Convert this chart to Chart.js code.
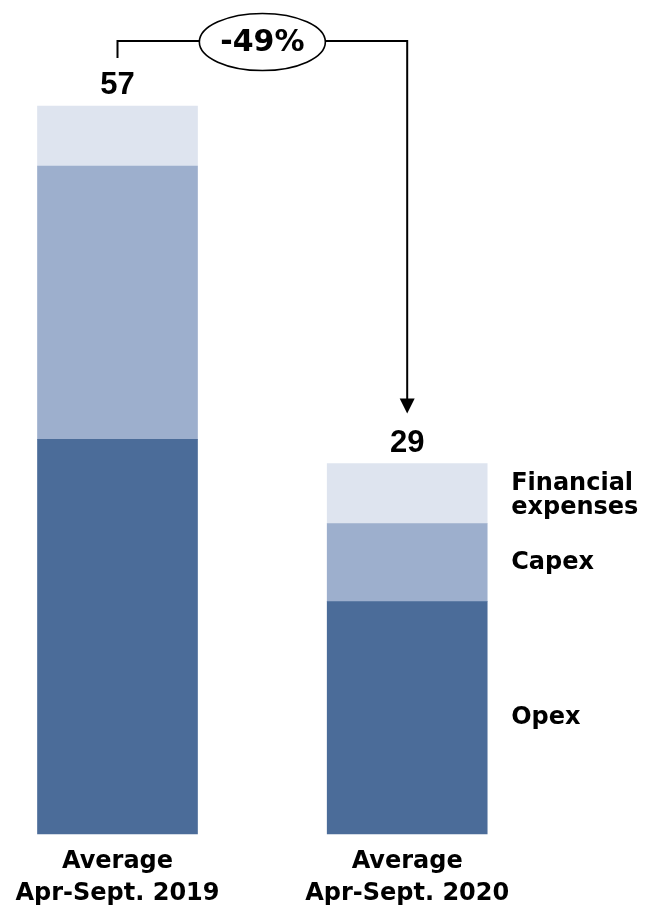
<!DOCTYPE html>
<html>
<head>
<meta charset="utf-8">
<script src="https://cdn.jsdelivr.net/npm/chart.js"></script>
<style>
  html, body { margin: 0; padding: 0; background: #fff; }
  #wrap { width: 649px; height: 908px; position: relative; }
</style>
</head>
<body>
<div id="wrap"><canvas id="costChart"></canvas></div>
<script>
// monthly cost split, average over April-September
const periods = [['Average', 'Apr-Sept. 2019'], ['Average', 'Apr-Sept. 2020']];
const opex = [30.9, 18.2];
const capex = [21.4, 6.1];
const financial = [4.7, 4.7];
const seriesNames = [['Opex'], ['Capex'], ['Financial', 'expenses']];
const seriesColors = ['#4B6C99', '#9DAFCD', '#DEE4EF'];

const textFont = '"DejaVu Sans", sans-serif';
const numFont = '"Liberation Sans", Arial, sans-serif';

function totals() {
  return periods.map((_, i) => opex[i] + capex[i] + financial[i]);
}

// totals above the stacks, series names beside the last stack, change bracket on top
const annotations = {
  id: 'annotations',
  afterDatasetsDraw(chart) {
    const ctx = chart.ctx;
    const sums = totals();
    const topMeta = chart.getDatasetMeta(chart.data.datasets.length - 1);
    const first = topMeta.data[0];
    const last = topMeta.data[topMeta.data.length - 1];

    ctx.save();
    ctx.fillStyle = '#000';
    ctx.textAlign = 'center';
    ctx.textBaseline = 'alphabetic';
    ctx.font = 'bold 31px ' + numFont;
    topMeta.data.forEach((bar, i) => {
      ctx.fillText(Math.round(sums[i]).toString(), bar.x, bar.y - 12);
    });

    // series names next to the second bar
    ctx.textAlign = 'left';
    ctx.textBaseline = 'middle';
    ctx.font = 'bold 24px ' + textFont;
    chart.data.datasets.forEach((ds, d) => {
      const bar = chart.getDatasetMeta(d).data[1];
      const cy = (bar.y + bar.base) / 2;
      const lines = seriesNames[d];
      const lh = 24;
      lines.forEach((t, k) => {
        const y = cy + (k - (lines.length - 1) / 2) * lh + (lines.length > 1 ? 2 : 0);
        ctx.fillText(t, bar.x + bar.width / 2 + 24, y);
      });
    });

    // bracket from first total to the second one
    const lineY = 41;
    ctx.strokeStyle = '#000';
    ctx.lineWidth = 2;
    ctx.beginPath();
    ctx.moveTo(first.x, first.y - 48);
    ctx.lineTo(first.x, lineY);
    ctx.lineTo(last.x, lineY);
    ctx.lineTo(last.x, last.y - 64);
    ctx.stroke();

    // arrow head
    const tipY = last.y - 50;
    ctx.fillStyle = '#000';
    ctx.beginPath();
    ctx.moveTo(last.x - 7.5, tipY - 15);
    ctx.lineTo(last.x + 7.5, tipY - 15);
    ctx.lineTo(last.x, tipY);
    ctx.closePath();
    ctx.fill();

    // change bubble
    const cx = (first.x + last.x) / 2;
    const cy = 42;
    ctx.beginPath();
    ctx.ellipse(cx, cy, 63, 28.5, 0, 0, Math.PI * 2);
    ctx.fillStyle = '#fff';
    ctx.fill();
    ctx.lineWidth = 1.6;
    ctx.stroke();

    const change = Math.round((sums[sums.length - 1] / sums[0] - 1) * 100);
    ctx.fillStyle = '#000';
    ctx.textAlign = 'center';
    ctx.textBaseline = 'middle';
    ctx.font = 'bold 30px ' + textFont;
    ctx.fillText(change + '%', cx, cy + 1);
    ctx.restore();
  }
};

const seriesData = [opex, capex, financial];

new Chart(document.getElementById('costChart'), {
  type: 'bar',
  data: {
    labels: periods,
    datasets: seriesData.map((vals, d) => ({
      label: seriesNames[d].join(' '),
      data: vals,
      backgroundColor: seriesColors[d],
      borderWidth: 0,
      barThickness: 160,
      clip: false
    }))
  },
  options: {
    responsive: true,
    maintainAspectRatio: false,
    animation: false,
    layout: { padding: { left: 117.5, right: 241.8, top: 0, bottom: 0 } },
    plugins: {
      legend: { display: false },
      tooltip: { enabled: false }
    },
    scales: {
      x: {
        stacked: true,
        offset: false,
        grid: { display: false, drawTicks: false },
        border: { display: false },
        ticks: {
          color: '#000',
          font: { family: textFont, size: 24, weight: 'bold', lineHeight: 1.33 },
          padding: 12,
          maxRotation: 0,
          autoSkip: false
        },
        afterFit(scale) { scale.height = 74; }
      },
      y: {
        stacked: true,
        display: false,
        min: 0,
        max: 65.3
      }
    }
  },
  plugins: [annotations]
});
</script>
</body>
</html>
